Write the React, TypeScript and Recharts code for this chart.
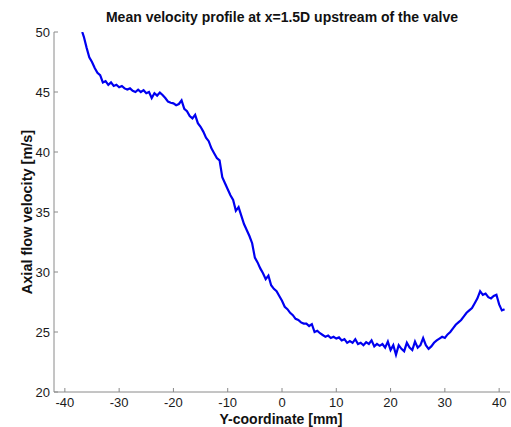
import React from 'react';
import { LineChart, Line, XAxis, YAxis } from 'recharts';

const yCoordinateMm = [
  -36.8, -36.5, -36.0, -35.5, -35.0, -34.5, -34.0, -33.5, -33.0, -32.5,
  -32.0, -31.5, -31.0, -30.5, -30.0, -29.5, -29.0, -28.5, -28.0, -27.5,
  -27.0, -26.5, -26.0, -25.5, -25.0, -24.5, -24.0, -23.5, -23.0, -22.5,
  -22.0, -21.5, -21.0, -20.5, -20.0, -19.5, -19.0, -18.5, -18.0, -17.5,
  -17.0, -16.5, -16.0, -15.5, -15.0, -14.5, -14.0, -13.5, -13.0, -12.5,
  -12.0, -11.5, -11.0, -10.5, -10.0, -9.5, -9.0, -8.5, -8.0, -7.5,
  -7.0, -6.5, -6.0, -5.5, -5.0, -4.5, -4.0, -3.5, -3.0, -2.5,
  -2.0, -1.5, -1.0, -0.5, 0.0, 0.5, 1.0, 1.5, 2.0, 2.5,
  3.0, 3.5, 4.0, 4.5, 5.0, 5.5, 6.0, 6.5, 7.0, 7.5,
  8.0, 8.5, 9.0, 9.5, 10.0, 10.5, 11.0, 11.5, 12.0, 12.5,
  13.0, 13.5, 14.0, 14.5, 15.0, 15.5, 16.0, 16.5, 17.0, 17.5,
  18.0, 18.5, 19.0, 19.5, 20.0, 20.5, 21.0, 21.5, 22.0, 22.5,
  23.0, 23.5, 24.0, 24.5, 25.0, 25.5, 26.0, 26.5, 27.0, 27.5,
  28.0, 28.5, 29.0, 29.5, 30.0, 30.5, 31.0, 31.5, 32.0, 32.5,
  33.0, 33.5, 34.0, 34.5, 35.0, 35.5, 36.0, 36.5, 37.0, 37.5,
  38.0, 38.5, 39.0, 39.5, 40.0, 40.5, 41.0,
];

const axialVelocity = [
  50.0, 49.6, 48.7, 47.9, 47.5, 47.0, 46.6, 46.4, 45.8, 45.9,
  45.6, 45.8, 45.5, 45.6, 45.4, 45.5, 45.3, 45.2, 45.3, 45.1,
  45.0, 45.2, 45.0, 45.15, 44.9, 45.0, 44.5, 44.9, 44.7, 44.95,
  44.75, 44.5, 44.2, 44.1, 44.05, 43.9, 44.0, 44.3, 43.6, 43.4,
  43.0, 42.8, 43.1, 42.4, 42.1, 41.7, 41.2, 40.9, 40.3, 39.9,
  39.5, 39.3, 37.9, 37.4, 36.9, 36.4, 36.0, 35.1, 35.4, 34.7,
  34.0, 33.5, 33.0, 32.4, 31.2, 30.8, 30.3, 29.9, 29.4, 29.7,
  28.9, 28.6, 28.4, 28.0, 27.6, 27.1, 26.9, 26.6, 26.4, 26.1,
  26.0, 25.8, 25.7, 25.7, 25.5, 25.65, 25.0, 25.1, 24.9, 24.75,
  24.6, 24.7, 24.5, 24.6, 24.45, 24.55, 24.3, 24.4, 24.1, 24.25,
  24.1, 24.4, 24.0, 24.1, 23.9, 24.15, 24.0, 24.3, 23.8, 24.0,
  23.85, 24.0, 23.7, 24.2, 23.5, 23.9, 23.1, 23.9, 23.6, 23.4,
  24.1, 23.7, 23.5, 24.2, 23.7, 23.9, 24.5, 23.9, 23.6, 23.8,
  24.1, 24.3, 24.45, 24.6, 24.5, 24.8, 25.0, 25.3, 25.6, 25.8,
  26.0, 26.3, 26.6, 26.8, 27.0, 27.4, 27.8, 28.4, 28.1, 28.2,
  27.9, 27.8, 28.0, 28.1, 27.3, 26.8, 26.9,
];

const xTicks = [-40, -30, -20, -10, 0, 10, 20, 30, 40];
const yTicks = [20, 25, 30, 35, 40, 45, 50];
const xDomain = [-42, 42];
const yDomain = [20, 50];

const titleText = 'Mean velocity profile at x=1.5D upstream of the valve';
const xLabelText = 'Y-coordinate [mm]';
const yLabelText = 'Axial flow velocity [m/s]';

const data = yCoordinateMm.map((x, i) => ({ x, v: axialVelocity[i] }));

const AXIS_COLOR = '#8a8a8a';
const FONT = 'Arial, "Liberation Sans", Helvetica, sans-serif';
const TICK_LEN = 4;

const BottomTick = (props: any) => {
  const { x, y, payload } = props;
  return (
    <g>
      <line x1={x} y1={y} x2={x} y2={y - TICK_LEN} stroke={AXIS_COLOR} strokeWidth={1} />
      <text x={x} y={y + 15} textAnchor="middle" fontFamily={FONT} fontSize={13} fill="#1a1a1a">
        {payload.value}
      </text>
    </g>
  );
};

const LeftTick = (props: any) => {
  const { x, y, payload } = props;
  return (
    <g>
      <line x1={x} y1={y} x2={x + TICK_LEN} y2={y} stroke={AXIS_COLOR} strokeWidth={1} />
      <text x={x - 4} y={y + 5} textAnchor="end" fontFamily={FONT} fontSize={13} fill="#1a1a1a">
        {payload.value}
      </text>
    </g>
  );
};

const TopTick = (props: any) => {
  const { x, y } = props;
  return <line x1={x} y1={y} x2={x} y2={y + TICK_LEN} stroke={AXIS_COLOR} strokeWidth={1} />;
};

const RightTick = (props: any) => {
  const { x, y } = props;
  return <line x1={x} y1={y} x2={x - TICK_LEN} y2={y} stroke={AXIS_COLOR} strokeWidth={1} />;
};

export default function App() {
  return (
    <div style={{ position: 'absolute', left: 0, top: 0, width: 511, height: 427, background: '#fff' }}>
      <LineChart
        width={511}
        height={427}
        data={data}
        margin={{ top: 32, right: 1, bottom: 0, left: 0 }}
      >
        <XAxis
          xAxisId="bottom"
          dataKey="x"
          type="number"
          domain={xDomain}
          ticks={xTicks}
          allowDataOverflow
          height={35}
          tickSize={0}
          tickMargin={0}
          tickLine={false}
          axisLine={{ stroke: AXIS_COLOR }}
          tick={<BottomTick />}
          interval={0}
        />
        <XAxis
          xAxisId="top"
          orientation="top"
          dataKey="x"
          type="number"
          domain={xDomain}
          ticks={xTicks}
          allowDataOverflow
          height={0}
          tickSize={0}
          tickMargin={0}
          tickLine={false}
          axisLine={{ stroke: AXIS_COLOR }}
          tick={<TopTick />}
          interval={0}
        />
        <YAxis
          yAxisId="left"
          type="number"
          domain={yDomain}
          ticks={yTicks}
          allowDataOverflow
          width={54}
          tickSize={0}
          tickMargin={0}
          tickLine={false}
          axisLine={{ stroke: AXIS_COLOR }}
          tick={<LeftTick />}
          interval={0}
        />
        <YAxis
          yAxisId="right"
          orientation="right"
          type="number"
          domain={yDomain}
          ticks={yTicks}
          allowDataOverflow
          width={0}
          tickSize={0}
          tickMargin={0}
          tickLine={false}
          axisLine={{ stroke: AXIS_COLOR }}
          tick={<RightTick />}
          interval={0}
        />
        <Line
          xAxisId="bottom"
          yAxisId="left"
          dataKey="v"
          type="linear"
          stroke="#0000f0"
          strokeWidth={2.2}
          dot={false}
          activeDot={false}
          isAnimationActive={false}
        />
      </LineChart>
      <svg
        width={511}
        height={427}
        style={{ position: 'absolute', left: 0, top: 0, pointerEvents: 'none' }}
      >
        <text x={282} y={22} textAnchor="middle" fontFamily={FONT} fontWeight="bold" fontSize={14} fill="#111">
          {titleText}
        </text>
        <text x={281} y={424} textAnchor="middle" fontFamily={FONT} fontWeight="bold" fontSize={14} fill="#111">
          {xLabelText}
        </text>
        <text
          x={0}
          y={0}
          transform="translate(32,212) rotate(-90)"
          textAnchor="middle"
          fontFamily={FONT}
          fontWeight="bold"
          fontSize={14.5}
          fill="#111"
        >
          {yLabelText}
        </text>
      </svg>
    </div>
  );
}
